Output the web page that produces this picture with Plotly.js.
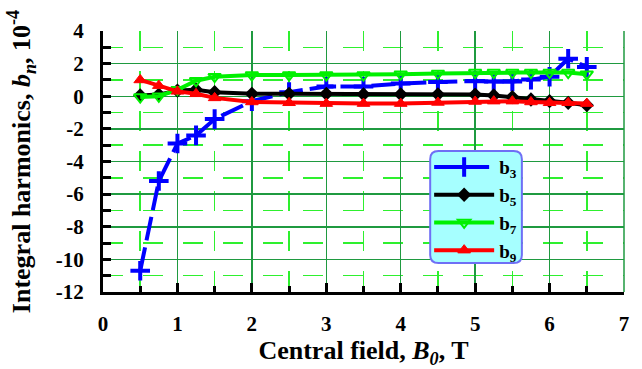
<!DOCTYPE html>
<html>
<head>
<meta charset="utf-8">
<script src="https://cdn.plot.ly/plotly-3.0.1.min.js"></script>
<style>html,body{margin:0;padding:0;background:#fff;}#chart{width:642px;height:369px;}</style>
</head>
<body>
<div id="chart"></div>
<script>
// Data
var fieldB0 = [0.5, 0.75, 1.0, 1.25, 1.5, 2.0, 2.5, 3.0, 3.5, 4.0, 4.5, 5.0, 5.25, 5.5, 5.75, 6.0, 6.25, 6.5];
var b3 = [-10.7, -5.2, -2.9, -2.4, -1.4, -0.3, 0.25, 0.6, 0.6, 0.78, 0.88, 0.94, 0.9, 0.9, 1.02, 1.2, 2.3, 1.8];
var b5 = [0.05, 0.1, 0.35, 0.4, 0.25, 0.15, 0.15, 0.15, 0.12, 0.12, 0.12, 0.1, 0.05, -0.05, -0.2, -0.3, -0.4, -0.55];
var b7 = [-0.05, 0.0, 0.4, 0.95, 1.2, 1.3, 1.3, 1.3, 1.3, 1.35, 1.4, 1.45, 1.45, 1.45, 1.45, 1.45, 1.45, 1.35];
var b9 = [1.0, 0.65, 0.3, 0.15, -0.1, -0.35, -0.4, -0.45, -0.45, -0.45, -0.38, -0.32, -0.3, -0.3, -0.35, -0.4, -0.4, -0.45];
var seriesNames = ['b<sub>3</sub>', 'b<sub>5</sub>', 'b<sub>7</sub>', 'b<sub>9</sub>'];
var xTicks = [0, 1, 2, 3, 4, 5, 6, 7];
var yTicks = [-12, -10, -8, -6, -4, -2, 0, 2, 4];

var serif = 'Liberation Serif, Times New Roman, serif';
var majorGrid = '#1f9a40';
var minorGrid = '#2ef02e';

var traces = [
  {x: fieldB0, y: b3, name: seriesNames[0], mode: 'lines+markers',
   line: {color: '#0000ff', width: 4, dash: '24px,7px'},
   marker: {symbol: 'cross-thin', size: 14, color: '#0000ff', line: {color: '#0000ff', width: 4}}},
  {x: fieldB0, y: b5, name: seriesNames[1], mode: 'lines+markers',
   line: {color: '#000000', width: 4},
   marker: {symbol: 'diamond', size: 11, color: '#000000'}},
  {x: fieldB0, y: b7, name: seriesNames[2], mode: 'lines+markers',
   line: {color: '#00f000', width: 4},
   marker: {symbol: 'triangle-down-open', size: 11, color: '#00f000', line: {color: '#00f000', width: 2}}},
  {x: fieldB0, y: b9, name: seriesNames[3], mode: 'lines+markers',
   line: {color: '#ff0000', width: 4},
   marker: {symbol: 'triangle-up', size: 11, color: '#ff0000', line: {color: '#ff0000', width: 1}}}
];

// legend box (rounded) in paper coords
var bx0 = 0.628, bx1 = 0.804, by0 = 0.111, by1 = 0.540, rx = 0.016, ry = 0.031;
var boxPath = 'M' + (bx0 + rx) + ',' + by1 + ' L' + (bx1 - rx) + ',' + by1 +
  ' Q' + bx1 + ',' + by1 + ' ' + bx1 + ',' + (by1 - ry) +
  ' L' + bx1 + ',' + (by0 + ry) + ' Q' + bx1 + ',' + by0 + ' ' + (bx1 - rx) + ',' + by0 +
  ' L' + (bx0 + rx) + ',' + by0 + ' Q' + bx0 + ',' + by0 + ' ' + bx0 + ',' + (by0 + ry) +
  ' L' + bx0 + ',' + (by1 - ry) + ' Q' + bx0 + ',' + by1 + ' ' + (bx0 + rx) + ',' + by1 + ' Z';

var layout = {
  width: 642, height: 369,
  margin: {l: 103, r: 18, t: 31, b: 77},
  paper_bgcolor: '#ffffff', plot_bgcolor: '#ffffff',
  showlegend: true,
  legend: {x: 0.626, xanchor: 'left', y: 0.551, yanchor: 'top', bgcolor: 'rgba(0,0,0,0)',
    font: {family: serif, size: 19, color: '#000', weight: 'bold'}, itemwidth: 60, tracegroupgap: 0},
  font: {family: serif, color: '#000'},
  xaxis: {
    range: [0, 7], tickvals: xTicks, ticktext: xTicks.map(String),
    showline: true, linecolor: '#000', linewidth: 3,
    ticks: 'inside', ticklen: 9, tickwidth: 3, tickcolor: '#000',
    showgrid: true, gridcolor: majorGrid, gridwidth: 1.5,
    zeroline: false, mirror: false,
    tickfont: {family: serif, size: 21, weight: 'bold'}, ticklabelstandoff: 11,
    minor: {dtick: 0.5, ticks: 'inside', ticklen: 6, tickwidth: 3, tickcolor: '#000',
      showgrid: true, gridcolor: minorGrid, griddash: '20px,20px', gridwidth: 1.5},
    title: {text: 'Central field, <i>B<sub>0</sub></i>, T', font: {family: serif, size: 26, weight: 'bold'}, standoff: 0}
  },
  yaxis: {
    range: [-12, 4], tickvals: yTicks, ticktext: yTicks.map(String),
    showline: true, linecolor: '#000', linewidth: 3,
    ticks: 'inside', ticklen: 8, tickwidth: 3, tickcolor: '#000',
    showgrid: true, gridcolor: majorGrid, gridwidth: 1.5,
    zeroline: false,
    tickfont: {family: serif, size: 21, weight: 'bold'}, ticklabelstandoff: 12,
    minor: {dtick: 1, ticks: 'inside', ticklen: 8, tickwidth: 3, tickcolor: '#000',
      showgrid: true, gridcolor: minorGrid, griddash: '20px,20px', gridwidth: 1.5},
    title: {text: 'Integral harmonics, <i>b<sub>n</sub></i>, 10<sup>-4</sup>', font: {family: serif, size: 26, weight: 'bold'}, standoff: 18}
  },
  shapes: [
    {type: 'line', xref: 'paper', yref: 'paper', x0: 1, x1: 1, y0: 0, y1: 1, line: {color: majorGrid, width: 1.5}},
    {type: 'path', xref: 'paper', yref: 'paper', path: boxPath, fillcolor: '#a6ffff', line: {color: '#6f6ff5', width: 2}, layer: 'above'}
  ]
};

Plotly.newPlot('chart', traces, layout, {staticPlot: true, displayModeBar: false});
</script>
</body>
</html>
